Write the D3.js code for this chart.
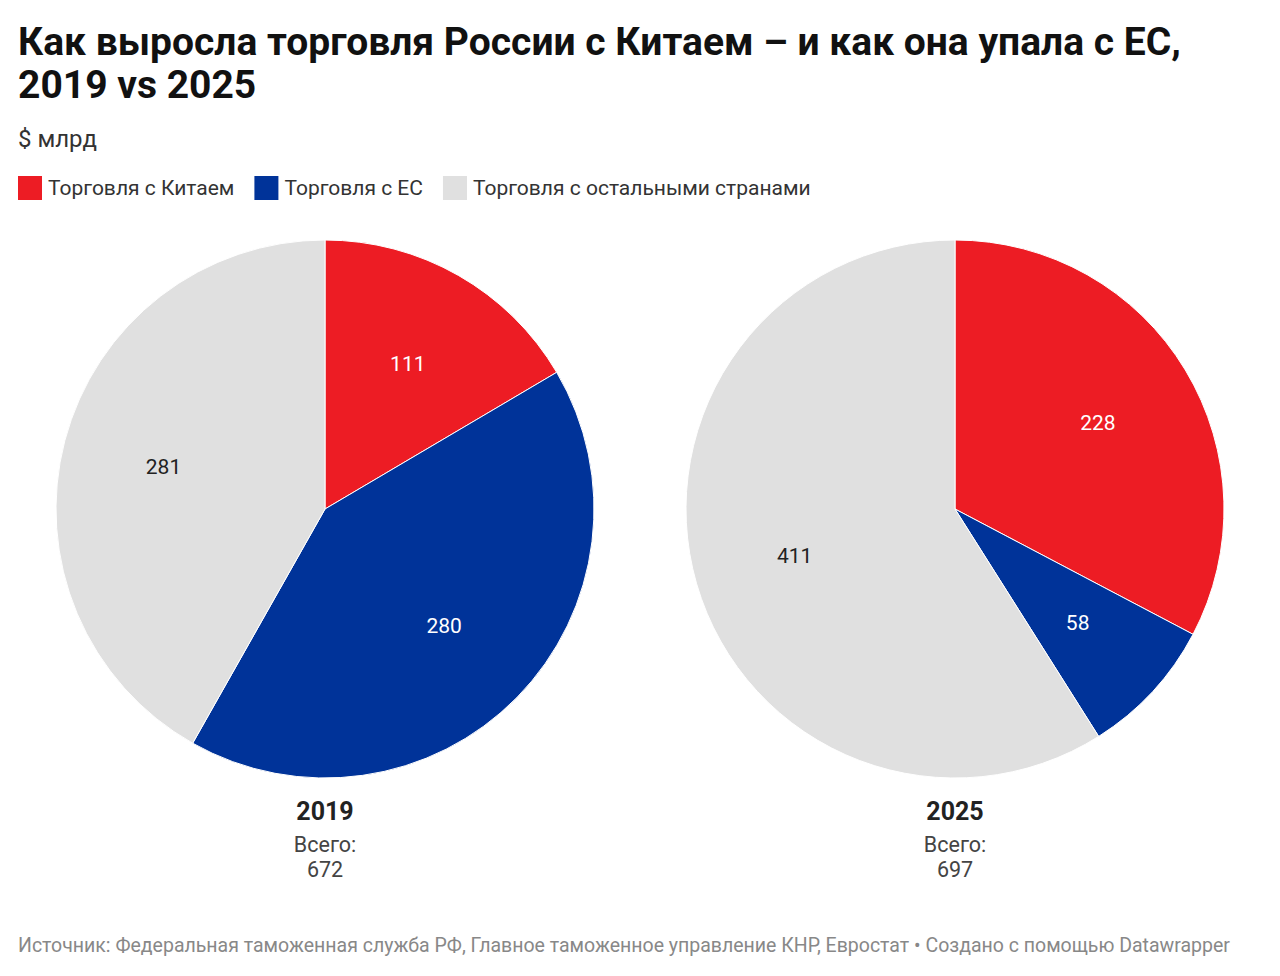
<!DOCTYPE html>
<html>
<head>
<meta charset="utf-8">
<script src="https://cdn.jsdelivr.net/npm/d3@7"></script>
<style>
  body { margin: 0; background: #fff; font-family: Roboto, "Noto Sans", sans-serif; }
  svg text { font-family: Roboto, "Noto Sans", sans-serif; }
</style>
</head>
<body>
<svg id="chart" width="1280" height="976"></svg>
<script>
const categories = ["Торговля с Китаем", "Торговля с ЕС", "Торговля с остальными странами"];
const colors = ["#ed1c24", "#003399", "#e0e0e0"];
const years = ["2019", "2025"];
const values2019 = [111, 280, 281];
const values2025 = [228, 58, 411];
const totals = [672, 697];

const svg = d3.select("#chart");

// title
svg.append("text").attr("x", 18).attr("y", 55)
  .attr("font-size", 39).attr("font-weight", 700).attr("fill", "#111")
  .text("Как выросла торговля России с Китаем – и как она упала с ЕС,");
svg.append("text").attr("x", 18).attr("y", 98)
  .attr("font-size", 39).attr("font-weight", 700).attr("fill", "#111")
  .text("2019 vs 2025");
svg.append("text").attr("x", 18).attr("y", 147)
  .attr("font-size", 24).attr("fill", "#333").text("$ млрд");

// legend
const legend = svg.append("g").attr("id", "legend");
let lx = 18;
categories.forEach((c, i) => {
  legend.append("rect").attr("x", lx).attr("y", 176).attr("width", 24).attr("height", 24)
    .attr("fill", colors[i]);
  const t = legend.append("text").attr("x", lx + 30).attr("y", 195)
    .attr("font-size", 21).attr("fill", "#333").text(c);
  lx += 30 + t.node().getComputedTextLength() + 20;
});

//-------------pies------------------------
const radius = 269;
const labelR = 167;
const pie = d3.pie().sort(null).value(d => d);
const arc = d3.arc().innerRadius(0).outerRadius(radius);
const labelArc = d3.arc().innerRadius(labelR).outerRadius(labelR);

const centers = [325, 955];
[values2019, values2025].forEach((vals, k) => {
  const g = svg.append("g").attr("transform", "translate(" + centers[k] + ",509)");
  const arcs = pie(vals);
  g.selectAll("path")
    .data(arcs)
    .enter()
    .append("path")
    .attr("d", arc)
    .attr("fill", (d, i) => colors[i])
    .attr("stroke", "#fff")
    .attr("stroke-width", 1);
  g.selectAll("text.val")
    .data(arcs)
    .enter()
    .append("text")
    .attr("class", "val")
    .attr("transform", d => "translate(" + labelArc.centroid(d) + ")")
    .attr("text-anchor", "middle")
    .attr("dy", "0.35em")
    .attr("font-size", 21)
    .attr("fill", (d, i) => i < 2 ? "#fff" : "#222")
    .text(d => d.data);

  g.append("text").attr("y", 311).attr("text-anchor", "middle")
    .attr("font-size", 25).attr("font-weight", 700).attr("fill", "#222")
    .text(years[k]);
  g.append("text").attr("y", 343).attr("text-anchor", "middle")
    .attr("font-size", 21.5).attr("fill", "#444").text("Всего:");
  g.append("text").attr("y", 368).attr("text-anchor", "middle")
    .attr("font-size", 21.5).attr("fill", "#444").text(totals[k]);
});

// footer
svg.append("text").attr("x", 18).attr("y", 952)
  .attr("font-size", 19.5).attr("fill", "#888")
  .text("Источник: Федеральная таможенная служба РФ, Главное таможенное управление КНР, Евростат • Создано с помощью Datawrapper");
</script>
</body>
</html>
